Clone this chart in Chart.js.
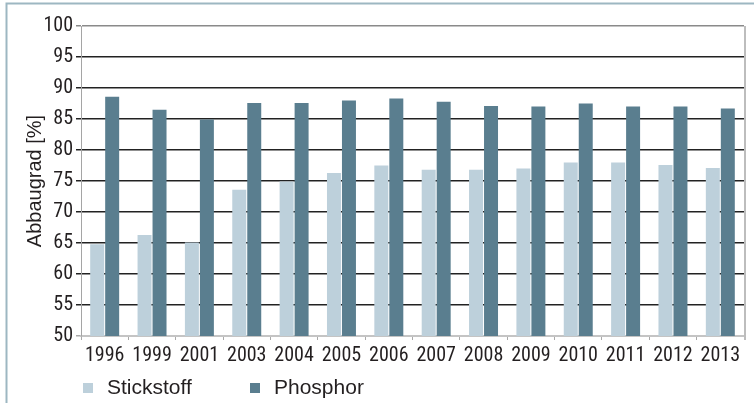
<!DOCTYPE html>
<html>
<head>
<meta charset="utf-8">
<script src="https://cdn.jsdelivr.net/npm/chart.js@4"></script>
<style>
  html, body { margin: 0; padding: 0; background: #fff; }
  canvas { display: block; }
</style>
</head>
<body>
<canvas id="myChart" width="754" height="403"></canvas>
<script>
var years = ['1996', '1999', '2001', '2003', '2004', '2005', '2006', '2007', '2008', '2009', '2010', '2011', '2012', '2013'];
var stickstoff = [64.8, 66.3, 65.1, 73.6, 74.9, 76.3, 77.5, 76.8, 76.8, 77.0, 78.0, 78.0, 77.6, 77.1];
var phosphor = [88.6, 86.5, 84.9, 87.6, 87.6, 88.0, 88.3, 87.8, 87.1, 87.0, 87.5, 87.0, 87.0, 86.7];
var seriesNames = ['Stickstoff', 'Phosphor'];

var tickFont = { family: '"Roboto Condensed", "Liberation Sans", sans-serif', size: 20 };
var textColor = '#231f20';

// frame, right border of the plot and the legend below
var extras = {
    id: 'extras',
    afterDraw: function (chart) {
        var c = chart.ctx;
        var a = chart.chartArea;
        c.save();
        c.strokeStyle = '#9db7c2';
        c.lineWidth = 2;
        c.beginPath();
        c.moveTo(6.5, 403);
        c.lineTo(6.5, 3.5);
        c.lineTo(754, 3.5);
        c.stroke();

        c.strokeStyle = '#bdbdbd';
        c.lineWidth = 2;
        c.beginPath();
        c.moveTo(a.right + 1, a.top);
        c.lineTo(a.right + 1, a.bottom + 4);
        c.stroke();

        var pos = [83, 250];
        c.font = '21px "Liberation Sans", Arial, sans-serif';
        c.textBaseline = 'alphabetic';
        chart.data.datasets.forEach(function (ds, i) {
            c.fillStyle = ds.backgroundColor;
            c.fillRect(pos[i], 383, 10, 10);
            c.fillStyle = textColor;
            c.fillText(ds.label, pos[i] + 24, 394);
        });
        c.restore();
    }
};

var ctx = document.getElementById('myChart').getContext('2d');
var myChart = new Chart(ctx, {
    type: 'bar',
    data: {
        labels: years,
        datasets: [{
            label: seriesNames[0],
            data: stickstoff,
            backgroundColor: '#bdd0db'
        }, {
            label: seriesNames[1],
            data: phosphor,
            backgroundColor: '#5a7e8f'
        }]
    },
    options: {
        responsive: false,
        animation: false,
        categoryPercentage: 0.633,
        barPercentage: 0.933,
        layout: { padding: { top: 26, right: 10, bottom: 0, left: 0 } },
        plugins: {
            legend: { display: false },
            tooltip: { enabled: false }
        },
        scales: {
            x: {
                afterFit: function (scale) { scale.height = 67; },
                grid: {
                    drawOnChartArea: false,
                    drawTicks: true,
                    tickLength: 4,
                    tickColor: '#aaaaaa'
                },
                border: { color: '#c4c4c4', width: 2 },
                ticks: { font: tickFont, color: textColor, padding: 4, maxRotation: 0, autoSkip: false }
            },
            y: {
                min: 50,
                max: 100,
                afterFit: function (scale) { scale.width = 81; },
                ticks: { stepSize: 5, font: tickFont, color: textColor, padding: 3 },
                grid: {
                    tickLength: 5,
                    lineWidth: 1.5,
                    color: function (c) {
                        if (c.tick && c.tick.value === 100) return '#8a8a8a';
                        if (c.tick && c.tick.value === 50) return 'rgba(0,0,0,0)';
                        return '#222222';
                    },
                    tickColor: function (c) {
                        if (c.tick && c.tick.value === 100) return '#8a8a8a';
                        if (c.tick && c.tick.value === 50) return '#aaaaaa';
                        return '#222222';
                    }
                },
                border: { color: '#a5a5a5', width: 1 },
                title: {
                    display: true,
                    text: 'Abbaugrad [%]',
                    color: textColor,
                    font: { family: '"Liberation Sans", Arial, sans-serif', size: 20 },
                    padding: { top: 23, bottom: 0 }
                }
            }
        }
    },
    plugins: [extras]
});
</script>
</body>
</html>
